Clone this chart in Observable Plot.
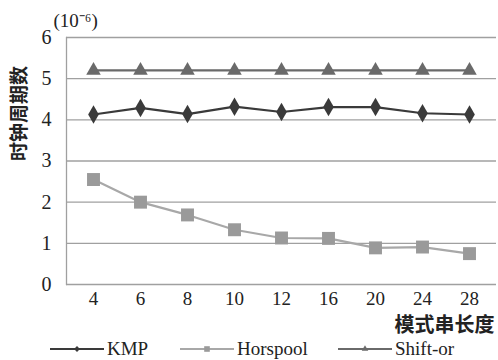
<!DOCTYPE html>
<html><head><meta charset="utf-8">
<script src="https://cdn.jsdelivr.net/npm/d3@7"></script>
<script src="https://cdn.jsdelivr.net/npm/@observablehq/plot@0.6"></script>
<style>
body{margin:0;background:#fff;}
#wrap{position:relative;width:498px;height:360px;overflow:hidden;}
#legend{position:absolute;left:0;top:338px;width:498px;height:22px;font-family:"Liberation Serif",serif;font-size:19px;color:#222;}
.item{position:absolute;top:0;display:flex;align-items:center;height:22px;}
.item svg{margin-right:3px;}
</style>
</head><body>
<div id="wrap"><div id="chart"></div><div id="legend"></div></div>
<script>
const lengths = ["4","6","8","10","12","16","20","24","28"];
const kmp = [4.13, 4.29, 4.14, 4.32, 4.19, 4.31, 4.31, 4.16, 4.13];
const horspool = [2.55, 2.0, 1.69, 1.33, 1.13, 1.12, 0.89, 0.91, 0.75];
const shiftor = [5.2, 5.2, 5.2, 5.2, 5.2, 5.2, 5.2, 5.2, 5.2];
const yTicks = [0, 1, 2, 3, 4, 5, 6];
const seriesNames = ["KMP", "Horspool", "Shift-or"];
const yLabel = "时钟周期数";
const xLabel = "模式串长度";
const unitLabel = "(10⁻⁶)";

const styles = {
  "KMP": {stroke: "#3a3a3a", fill: "#3a3a3a", symbol: "diamond", r: 5.6, lsize: 22},
  "Horspool": {stroke: "#a8a8a8", fill: "#9a9a9a", symbol: "square", r: 7.3, lsize: 40},
  "Shift-or": {stroke: "#6a6a6a", fill: "#6a6a6a", symbol: "triangle", r: 5.4, lsize: 30}
};
const vals = {"KMP": kmp, "Horspool": horspool, "Shift-or": shiftor};
const rows = [];
for (const s of seriesNames) lengths.forEach((l, i) => rows.push({series: s, len: l, v: vals[s][i]}));

const serif = "Liberation Serif";
const marks = [
  Plot.ruleY(yTicks, {stroke: "#a0a0a0", strokeWidth: 1.3}),
  Plot.frame({anchor: "left", stroke: "#a0a0a0", strokeWidth: 1.3}),
  Plot.axisY({ticks: yTicks, tickFormat: d3.format("d"), tickSize: 0, tickPadding: 15, label: null, fontSize: 20, fontFamily: serif}),
  Plot.axisX({tickSize: 0, tickPadding: 7, label: null, fontSize: 19, fontFamily: serif}),
];
for (const s of seriesNames) {
  const st = styles[s];
  const d = rows.filter(r => r.series === s);
  marks.push(Plot.line(d, {x: "len", y: "v", stroke: st.stroke, strokeWidth: 2.2}));
  marks.push(Plot.dot(d, {x: "len", y: "v", symbol: () => st.symbol, r: st.r, fill: st.fill, stroke: "none"}));
}
marks.push(Plot.text([yLabel], {frameAnchor: "left", rotate: -90, dx: -47, dy: 0, text: d => d, fontSize: 19, fontWeight: "bold", fontFamily: "Noto Sans CJK SC"}));
marks.push(Plot.text([xLabel], {frameAnchor: "bottom-right", lineAnchor: "middle", dy: 41, dx: -2, textAnchor: "end", text: d => d, fontSize: 20, fontWeight: "bold", fontFamily: "Noto Sans CJK SC"}));
marks.push(Plot.text([unitLabel], {frameAnchor: "top-left", lineAnchor: "middle", dx: -13, dy: -17, textAnchor: "start", text: d => d, fontSize: 19, fontFamily: serif}));

const chart = Plot.plot({
  width: 498, height: 338,
  marginLeft: 66, marginRight: 2, marginTop: 37, marginBottom: 54,
  x: {type: "point", domain: lengths, padding: 0.5},
  y: {domain: [0, 6]},
  style: "background: #fff; overflow: visible; font-family: 'Liberation Serif', serif; font-size: 19px; color: #222;",
  marks
});
document.getElementById("chart").appendChild(chart);

// legend
const legendPos = {"KMP": 50, "Horspool": 180, "Shift-or": 338};
const leg = document.getElementById("legend");
for (const s of seriesNames) {
  const st = styles[s];
  const it = document.createElement("div");
  it.className = "item";
  it.style.left = legendPos[s] + "px";
  const type = st.symbol === "diamond" ? d3.symbolDiamond2 : st.symbol === "square" ? d3.symbolSquare2 : d3.symbolTriangle2;
  const sym = d3.symbol().type(type).size(st.lsize)();
  it.innerHTML = `<svg width="54" height="22"><line x1="0" x2="54" y1="11" y2="11" stroke="${st.stroke}" stroke-width="2.2"/><path d="${sym}" transform="translate(27,11)" fill="${st.fill}"/></svg><span>${s}</span>`;
  leg.appendChild(it);
}
</script>
</body></html>
